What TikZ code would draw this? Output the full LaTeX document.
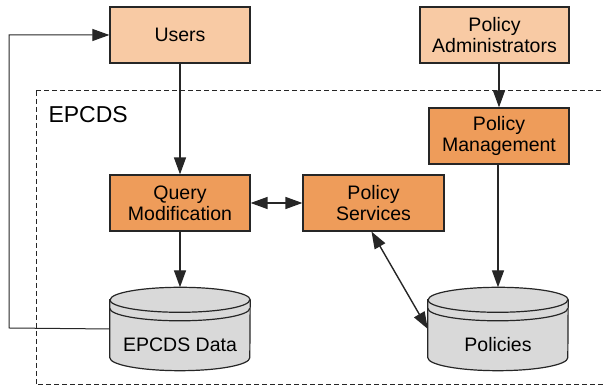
\documentclass[tikz,border=0pt]{standalone}
\usepackage{fontspec}
\setmainfont{Liberation Sans}
\usetikzlibrary{arrows.meta,calc}
\definecolor{lightor}{HTML}{F8CAA4}
\definecolor{darkor}{HTML}{EE9C5A}
\definecolor{cylgray}{HTML}{D9D9D9}
\definecolor{edge}{HTML}{262626}
\tikzset{
  actor/.style={draw=edge,line width=1.2pt,fill=lightor,minimum width=140pt,minimum height=56pt,align=center,inner sep=0pt,font=\fontsize{19.5}{21}\selectfont},
  comp/.style={actor,fill=darkor},
  cylbox/.style={draw=none,minimum width=140pt,minimum height=83pt,inner sep=0pt},
  cyl/.style={draw=edge,line width=1.2pt,fill=cylgray},
  cylline/.style={draw=edge,line width=1.2pt},
  tip/.style={},
  conn/.style={draw=edge,line width=1.4pt,-{Triangle[length=17pt,width=12pt]}},
  bconn/.style={draw=edge,line width=1.4pt,{Triangle[length=17pt,width=12pt]}-{Triangle[length=17pt,width=12pt]}},
  feed/.style={draw=edge,line width=1pt,-{Triangle[length=17pt,width=12pt]}},
  lbl/.style={font=\fontsize{19.5}{21}\selectfont},
}
\newcommand{\drawcyl}[1]{%
  \draw[cyl] ([yshift=-12.5pt]#1.north west) -- ([yshift=13pt]#1.south west)
    arc[start angle=180,end angle=360,x radius=70pt,y radius=13pt]
    -- ([yshift=-12.5pt]#1.north east)
    arc[start angle=0,end angle=180,x radius=70pt,y radius=12.5pt] -- cycle;
  \draw[cylline] ([yshift=-12.5pt]#1.north west) arc[start angle=180,end angle=360,x radius=70pt,y radius=12.5pt];
  \draw[cylline] ([yshift=-21pt]#1.north west) arc[start angle=180,end angle=360,x radius=70pt,y radius=12.5pt];
}
\begin{document}
\begin{tikzpicture}[x=1pt,y=1pt]
\useasboundingbox (0,0) rectangle (603,387);
\clip (0,0) rectangle (603,387);
% dashed system boundary
\draw[dashed,line width=1pt,draw=edge,dash pattern=on 5pt off 3pt] (36,296) -- (36,2) -- (640,2) (36,296) -- (640,296);
\node[anchor=west,font=\fontsize{23}{25}\selectfont] (sys) at (45,272) {EPCDS};
% nodes
\node[actor] (users) at (180,352) {Users};
\node[actor,minimum width=149pt] (admin) at (494.5,352) {Policy\\Administrators};
\node[comp] (mgmt) at (499,251) {Policy\\Management};
\node[comp] (query) at (180,184) {Query\\Modification};
\node[comp,minimum width=141pt] (serv) at (373.5,184) {Policy\\Services};
\node[cylbox] (data) at (180,58) {};
\node[cylbox] (pol) at (498,58) {};
\drawcyl{data}
\drawcyl{pol}
\node[lbl] (datat) at ([yshift=-16pt]data.center) {EPCDS Data};
\node[lbl] (polt) at ([yshift=-16pt]pol.center) {Policies};
% connectors
\draw[conn] (users) -- (query);
\draw[conn] (mgmt.north |- admin.south) -- (mgmt.north);
\draw[conn] (mgmt.south -| pol.north) -- (pol.north);
\draw[conn] (query) -- (data.north);
\draw[bconn] (query) -- (serv);
\draw[bconn] ([xshift=-2pt]serv.south) -- (pol.west);
\coordinate (fb) at (9,59);
\draw[feed] (data.west) -- (fb) |- (users.west);
\end{tikzpicture}
\end{document}
